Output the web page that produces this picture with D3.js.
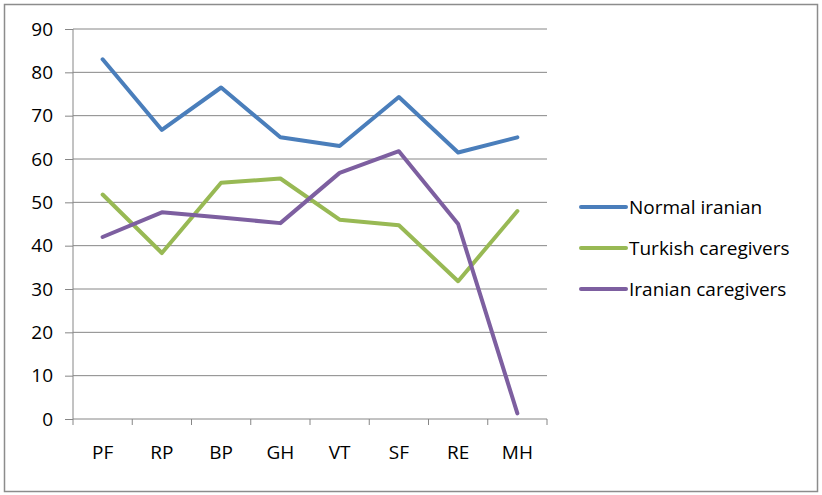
<!DOCTYPE html>
<html>
<head>
<meta charset="utf-8">
<script src="https://cdn.jsdelivr.net/npm/d3@7"></script>
<style>
  body { margin: 0; background: #fff; }
  text { font-family: "Open Sans", sans-serif; fill: #000; }
</style>
</head>
<body>
<script>
const width = 822;
const height = 495;

// chart data
const categories = ["PF", "RP", "BP", "GH", "VT", "SF", "RE", "MH"];
const seriesNames = ["Normal iranian", "Turkish caregivers", "Iranian caregivers"];
const normalIranian = [83, 66.7, 76.5, 65, 63, 74.3, 61.5, 65];
const turkishCaregivers = [51.8, 38.3, 54.5, 55.5, 46, 44.7, 31.8, 48];
const iranianCaregivers = [42, 47.7, 46.5, 45.2, 56.8, 61.8, 45, 1.3];
const yTicks = [0, 10, 20, 30, 40, 50, 60, 70, 80, 90];
const colors = ["#4a7ebb", "#98b954", "#7d5fa0"];

const allSeries = [normalIranian, turkishCaregivers, iranianCaregivers];

const plot = { left: 73, right: 547, top: 29, bottom: 419 };

var svg = d3.select("body")
    .append("svg")
    .attr("width", width)
    .attr("height", height);

// outer frame
svg.append("rect")
    .attr("x", 4.5).attr("y", 4.5)
    .attr("width", 813).attr("height", 487)
    .attr("fill", "#fff")
    .attr("stroke", "#8c8c8c")
    .attr("stroke-width", 1.5);

let xScale = d3.scaleBand()
    .domain(categories)
    .range([plot.left, plot.right]);

let yScale = d3.scaleLinear()
    .domain([0, 90])
    .range([plot.bottom, plot.top]);

// gridlines
svg.append("g")
    .selectAll("line")
    .data(yTicks.filter(d => d > 0))
    .enter()
    .append("line")
    .attr("x1", plot.left)
    .attr("x2", plot.right)
    .attr("y1", d => yScale(d))
    .attr("y2", d => yScale(d))
    .attr("stroke", "#868686")
    .attr("stroke-width", 1);

// y axis
const yAxis = svg.append("g")
    .attr("transform", "translate(" + plot.left + ",0)")
    .call(d3.axisLeft(yScale).tickValues(yTicks).tickSize(8).tickPadding(12).tickFormat(d3.format("d")));
yAxis.select(".domain").attr("stroke", "#868686").attr("d", "M0," + plot.top + "V" + plot.bottom);
yAxis.selectAll(".tick line").attr("stroke", "#868686");
yAxis.selectAll(".tick text")
    .style("font-family", "'Open Sans', sans-serif")
    .style("font-size", "19px")
    .attr("fill", "#000");

// x axis
const xAxis = svg.append("g")
    .attr("transform", "translate(0," + plot.bottom + ")")
    .call(d3.axisBottom(xScale).tickSize(0).tickPadding(27));
xAxis.select(".domain").attr("stroke", "#868686").attr("d", "M" + plot.left + ",0H" + plot.right);
xAxis.selectAll(".tick text")
    .style("font-family", "'Open Sans', sans-serif")
    .style("font-size", "19px")
    .attr("fill", "#000");

// category boundary ticks
const boundaries = categories.map(c => xScale(c)).concat([xScale.range()[1]]);
svg.append("g")
    .selectAll("line")
    .data(boundaries)
    .enter()
    .append("line")
    .attr("x1", d => d).attr("x2", d => d)
    .attr("y1", plot.bottom).attr("y2", plot.bottom + 6)
    .attr("stroke", "#868686");

// lines
const line = d3.line()
    .x((d, i) => xScale(categories[i]) + xScale.bandwidth() / 2)
    .y(d => yScale(d));

svg.selectAll(".series")
    .data(allSeries)
    .enter()
    .append("path")
    .attr("class", "series")
    .attr("d", d => line(d))
    .attr("fill", "none")
    .attr("stroke", (d, i) => colors[i])
    .attr("stroke-width", 4)
    .attr("stroke-linejoin", "round")
    .attr("stroke-linecap", "round");

// legend
const legend = svg.append("g")
    .selectAll("g")
    .data(seriesNames)
    .enter()
    .append("g")
    .attr("transform", (d, i) => "translate(581," + (207 + i * 41) + ")");

legend.append("line")
    .attr("x1", 0).attr("x2", 45)
    .attr("y1", 0).attr("y2", 0)
    .attr("stroke", (d, i) => colors[i])
    .attr("stroke-width", 4)
    .attr("stroke-linecap", "round");

legend.append("text")
    .attr("x", 48)
    .attr("y", 0)
    .attr("dy", "0.35em")
    .style("font-size", "19px")
    .text(d => d);
</script>
</body>
</html>
